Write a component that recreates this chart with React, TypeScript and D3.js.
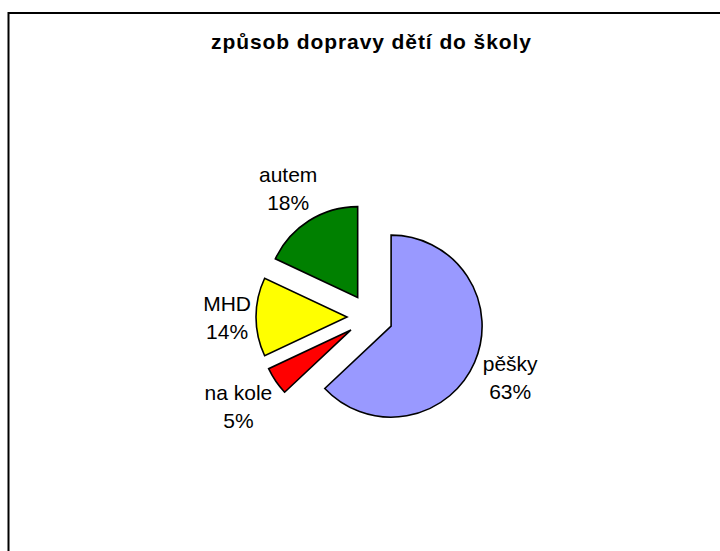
import React, { useEffect, useRef } from "react";
import * as d3 from "d3";

// chart data
const title = "způsob dopravy dětí do školy";
const categories = ["pěšky", "na kole", "MHD", "autem"];
const values = [63, 5, 14, 18];
const colors = ["#9999FF", "#FF0000", "#FFFF00", "#008000"];

const FONT = "'Liberation Sans', Arial, Helvetica, sans-serif";

function App() {
  const ref = useRef<SVGSVGElement | null>(null);

  const width = 720;
  const height = 551;
  const cx = 370;
  const cy = 317;
  const radius = 91;
  const explode = 23;

  useEffect(() => {
    drawChart();
  }, []);

  function drawChart() {
    const svg = d3.select(ref.current);
    svg.selectAll("*").remove();

    // chart area border (runs off the right and bottom edge)
    svg
      .append("rect")
      .attr("x", 8.5)
      .attr("y", 13)
      .attr("width", 900)
      .attr("height", 900)
      .attr("fill", "#ffffff")
      .attr("stroke", "#000000")
      .attr("stroke-width", 2);

    svg
      .append("text")
      .attr("x", cx + 1)
      .attr("y", 49)
      .attr("text-anchor", "middle")
      .attr("textLength", 320)
      .attr("lengthAdjust", "spacing")
      .style("font-family", FONT)
      .style("font-weight", "bold")
      .style("font-size", "21px")
      .text(title);

    const total = d3.sum(values);
    const pieGenerator = d3
      .pie<number>()
      .sort(null)
      .value((d) => d);
    const arcGenerator = d3
      .arc<d3.PieArcDatum<number>>()
      .innerRadius(0)
      .outerRadius(radius);

    const arcs = pieGenerator(values);
    const g = svg.append("g").attr("transform", `translate(${cx}, ${cy})`);

    arcs.forEach((a, i) => {
      const mid = (a.startAngle + a.endAngle) / 2;
      const dx = Math.sin(mid);
      const dy = -Math.cos(mid);

      g.append("path")
        .attr("d", arcGenerator(a) as string)
        .attr("transform", `translate(${dx * explode}, ${dy * explode})`)
        .style("fill", colors[i])
        .style("stroke", "#000000")
        .style("stroke-width", 1.6)
        .style("stroke-linejoin", "miter");

      // label: name + percent, pushed outside the slice
      const lines = [categories[i], `${Math.round((values[i] / total) * 100)}%`];
      const lineGap = 28;
      const capH = 15;
      const text = g
        .append("text")
        .attr("text-anchor", "middle")
        .style("font-family", FONT)
        .style("font-size", "21px")
        .style("fill", "#000000");
      const spans = lines.map((l) => text.append("tspan").text(l));
      const w = d3.max(spans, (s) => (s.node() as SVGTSpanElement).getComputedTextLength()) || 0;
      const h = capH + lineGap;
      const ext = Math.abs(dx) * (w / 2) + Math.abs(dy) * (h / 2);
      const r0 = 119;
      const lx = dx * (r0 + ext);
      const ly = dy * (r0 + ext);
      const base = ly - h / 2 + capH;
      spans.forEach((s, k) => {
        s.attr("x", lx).attr("y", base + k * lineGap);
      });
    });
  }

  return (
    <div style={{ position: "absolute", left: 0, top: 0 }}>
      <svg ref={ref} width={width} height={height} style={{ display: "block" }} />
    </div>
  );
}

export default App;
